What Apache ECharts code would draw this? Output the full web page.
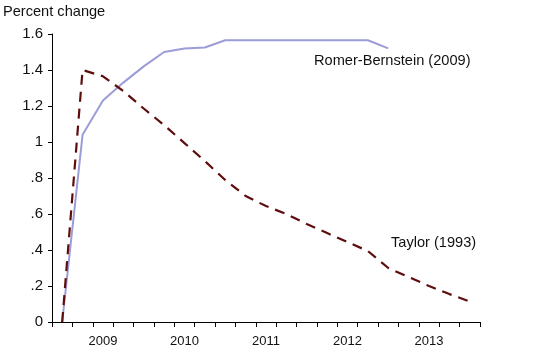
<!DOCTYPE html>
<html>
<head>
<meta charset="utf-8">
<script src="https://cdn.jsdelivr.net/npm/echarts@6/dist/echarts.min.js"></script>
<style>html,body{margin:0;padding:0;background:#fff;}#c{width:548px;height:359px;}</style>
</head>
<body>
<div id="c"></div>
<script>
const quarters = ['2008Q3','2008Q4','2009Q1','2009Q2','2009Q3','2009Q4','2010Q1','2010Q2','2010Q3','2010Q4','2011Q1','2011Q2','2011Q3','2011Q4','2012Q1','2012Q2','2012Q3','2012Q4','2013Q1','2013Q2','2013Q3'];
const romerBernstein = [0, 1.04, 1.23, 1.33, 1.42, 1.50, 1.52, 1.525, 1.565, 1.565, 1.565, 1.565, 1.565, 1.565, 1.565, 1.565, 1.52, null, null, null, null];
const taylor = [0, 1.40, 1.365, 1.283, 1.186, 1.094, 0.994, 0.894, 0.789, 0.70, 0.644, 0.60, 0.544, 0.494, 0.444, 0.394, 0.30, 0.25, 0.20, 0.155, 0.114];
const yTickLabels = {'0':'0','0.2':'.2','0.4':'.4','0.6':'.6','0.8':'.8','1':'1','1.2':'1.2','1.4':'1.4','1.6':'1.6'};
const yTitle = 'Percent change';
const romerName = 'Romer-Bernstein (2009)';
const taylorName = 'Taylor (1993)';

const chart = echarts.init(document.getElementById('c'), null, {renderer: 'canvas'});
const font = 'Arial, "Liberation Sans", sans-serif';
chart.setOption({
  animation: false,
  backgroundColor: '#fff',
  grid: {left: 52, right: 68, top: 34, bottom: 37},
  xAxis: {
    type: 'category',
    data: quarters,
    boundaryGap: true,
    axisLine: {lineStyle: {color: '#000', width: 1}},
    axisTick: {show: true, interval: 0, length: 5, lineStyle: {color: '#000'}},
    axisLabel: {
      interval: (i, v) => v.endsWith('Q1'),
      formatter: v => v.slice(0, 4),
      color: '#111', fontFamily: font, fontSize: 13, margin: 13
    },
    splitLine: {show: false}
  },
  yAxis: {
    type: 'value', min: 0, max: 1.6, interval: 0.2,
    axisLine: {show: true, lineStyle: {color: '#000', width: 1}},
    axisTick: {show: true, length: 4, lineStyle: {color: '#000'}},
    axisLabel: {
      formatter: v => yTickLabels[String(Math.round(v * 10) / 10)] || '',
      color: '#111', fontFamily: font, fontSize: 15, margin: 9
    },
    splitLine: {show: false}
  },
  series: [
    {
      name: romerName, type: 'line', data: romerBernstein, showSymbol: false, symbol: 'none',
      lineStyle: {color: '#9c9cd8', width: 2}, z: 2
    },
    {
      name: taylorName, type: 'line', data: taylor, showSymbol: false, symbol: 'none',
      lineStyle: {color: '#5e0d0d', width: 2.2, type: [10, 7]}, z: 3
    }
  ],
  graphic: [
    {type: 'text', left: 3, top: 4, style: {text: yTitle, font: '14.6px ' + font, fill: '#111'}},
    {type: 'text', left: 314, top: 53, style: {text: romerName, font: '14.6px ' + font, fill: '#111'}},
    {type: 'text', left: 391, top: 235, style: {text: taylorName, font: '14.6px ' + font, fill: '#111'}}
  ]
});
</script>
</body>
</html>
